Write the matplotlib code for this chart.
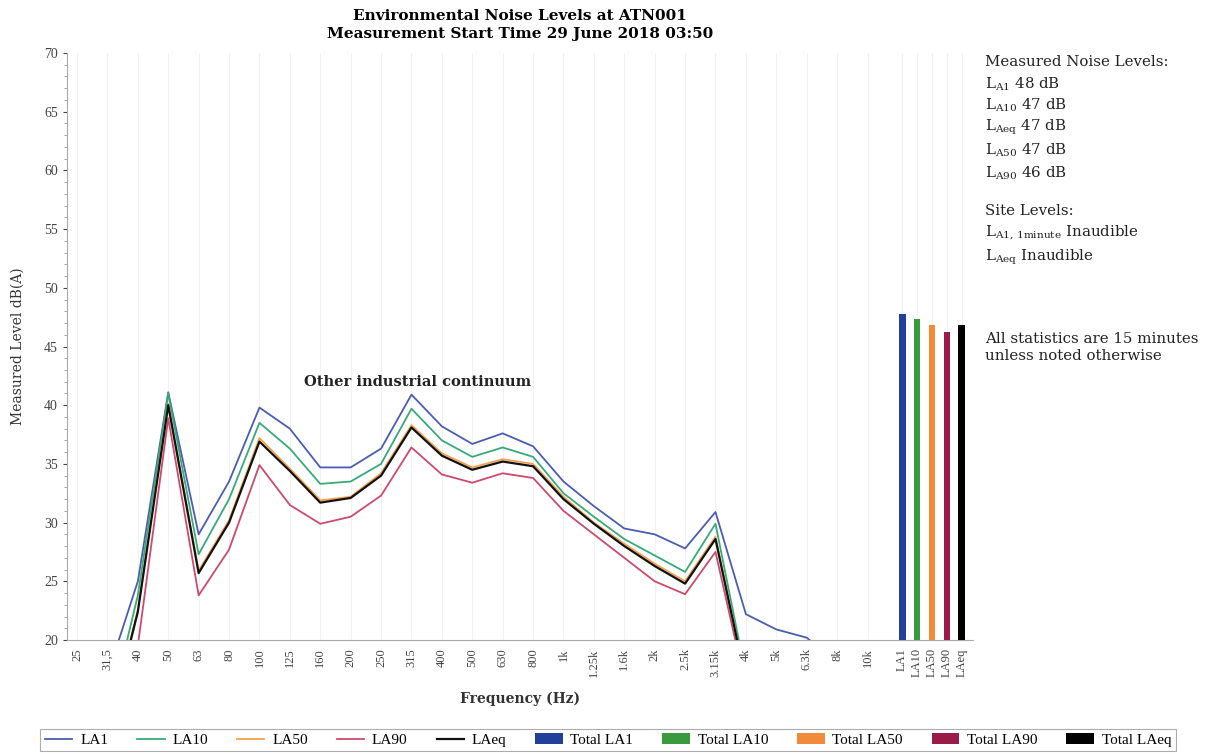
import numpy as np
import matplotlib
matplotlib.use("Agg")
import matplotlib.pyplot as plt
from matplotlib.ticker import MultipleLocator

plt.rcParams['font.family'] = ['Liberation Serif', 'DejaVu Serif']
plt.rcParams['mathtext.fontset'] = 'dejavuserif'

freqs = ["25", "31,5", "40", "50", "63", "80", "100", "125", "160", "200", "250",
         "315", "400", "500", "630", "800", "1k", "1.25k", "1.6k", "2k", "2.5k",
         "3.15k", "4k", "5k", "6.3k", "8k", "10k"]
nan = np.nan
la1 = [12, 17, 25.0, 41.1, 29.0, 33.5, 39.8, 38.0, 34.7, 34.7, 36.3, 40.9, 38.2, 36.7,
       37.6, 36.5, 33.5, 31.4, 29.5, 29.0, 27.8, 30.9, 22.2, 20.9, 20.2, 18.0, nan]
la10 = [10, 13, 23.8, 41.0, 27.3, 32.0, 38.5, 36.3, 33.3, 33.5, 35.0, 39.7, 37.0, 35.6,
        36.4, 35.6, 32.5, 30.5, 28.6, 27.2, 25.8, 29.9, 17.0, nan, nan, nan, nan]
la50 = [9, 12, 22.6, 40.1, 25.9, 30.2, 37.2, 34.6, 31.9, 32.2, 34.2, 38.3, 35.9, 34.7,
        35.4, 35.0, 32.2, 30.0, 28.2, 26.5, 25.0, 28.8, 16.5, nan, nan, nan, nan]
la90 = [8, 10, 19.5, 38.9, 23.8, 27.7, 34.9, 31.5, 29.9, 30.5, 32.3, 36.4, 34.1, 33.4,
        34.2, 33.8, 31.0, 29.0, 27.0, 25.0, 23.9, 27.5, 16.0, nan, nan, nan, nan]
laeq = [9, 12, 22.4, 40.0, 25.7, 30.0, 36.9, 34.4, 31.7, 32.1, 34.0, 38.1, 35.7, 34.5,
        35.2, 34.8, 32.0, 29.9, 28.0, 26.3, 24.8, 28.6, 16.5, nan, nan, nan, nan]

bar_labels = ["LA1", "LA10", "LA50", "LA90", "LAeq"]
bar_values = [47.8, 47.3, 46.8, 46.2, 46.8]

line_colors = ["#4a5db0", "#38aa7a", "#f5a04e", "#cc4a6c", "#111111"]
bar_colors = ["#22409a", "#3a9a3e", "#f28a3c", "#9a1a48", "#000000"]

fig = plt.figure(figsize=(12.22, 7.54), dpi=100)
ax = fig.add_axes([67/1222, 1-640/754, (973-67)/1222, (640-53)/754])

x = np.arange(len(freqs))
series = [("LA1", la1), ("LA10", la10), ("LA50", la50), ("LA90", la90), ("LAeq", laeq)]
handles = []
for (name, vals), c in zip(series, line_colors):
    lw = 1.6 if name == "LAeq" else 1.3
    h, = ax.plot(x, vals, color=c, lw=lw, label=name, zorder=3 if name == "LAeq" else 2)
    handles.append(h)

bx = 27.14 + 0.49 * np.arange(len(bar_labels))
for xi, v, c, name in zip(bx, bar_values, bar_colors, bar_labels):
    b = ax.bar(xi, v - 20, bottom=20, width=0.22, color=c, label="Total " + name, zorder=3)
    handles.append(b)

ax.set_xlim(-0.33, 29.47)
ax.set_ylim(20, 70)
ax.set_xticks(list(x) + list(bx))
ax.set_xticklabels(freqs + bar_labels, rotation=90, fontsize=9, color="#444444")
ax.yaxis.set_major_locator(MultipleLocator(5))
ax.yaxis.set_minor_locator(MultipleLocator(1))
ax.tick_params(axis='y', labelsize=10, colors="#444444", length=3)
ax.tick_params(axis='y', which='minor', length=2, color="#999999")
ax.tick_params(axis='x', length=0, pad=6)
for s in ["top", "right"]:
    ax.spines[s].set_visible(False)
for s in ["left", "bottom"]:
    ax.spines[s].set_color("#aaaaaa")
ax.grid(axis='x', color="#f2f2f2", lw=0.8, zorder=0)

serif = ['DejaVu Serif']
ax.set_ylabel("Measured Level dB(A)", fontsize=10, color="#333333", labelpad=14, family=serif)
ax.set_xlabel("Frequency (Hz)", fontsize=10, fontweight="bold", color="#333333", labelpad=10,
              family=serif)

fig.text(0.4255, 0.979, "Environmental Noise Levels at ATN001", ha="center", va="center",
         fontsize=11, fontweight="bold", family=serif)
fig.text(0.4255, 0.955, "Measurement Start Time 29 June 2018 03:50", ha="center", va="center",
         fontsize=11, fontweight="bold", family=serif)

ax.text(418/1222, 1-382/754, "Other industrial continuum", transform=fig.transFigure,
        ha="center", va="center", fontsize=10.5, fontweight="bold", color="#222222",
        family=serif)

tx = 985/1222
side = [
    (62, "Measured Noise Levels:"),
    (84, r"L$_{\mathrm{A1}}$ 48 dB"),
    (105, r"L$_{\mathrm{A10}}$ 47 dB"),
    (127, r"L$_{\mathrm{Aeq}}$ 47 dB"),
    (150, r"L$_{\mathrm{A50}}$ 47 dB"),
    (173, r"L$_{\mathrm{A90}}$ 46 dB"),
    (211, "Site Levels:"),
    (233, r"L$_{\mathrm{A1,\,1minute}}$ Inaudible"),
    (257, r"L$_{\mathrm{Aeq}}$ Inaudible"),
    (339, "All statistics are 15 minutes"),
    (356, "unless noted otherwise"),
]
for yy, s in side:
    fig.text(tx, 1-yy/754, s, ha="left", va="center", fontsize=10.8, color="#222222",
             family=serif)

leg = fig.legend(handles=handles, loc="center", bbox_to_anchor=(608/1222, 1-740/754),
                 ncol=10, fontsize=11, frameon=True, fancybox=False, edgecolor="#999999",
                 handlelength=1.8, columnspacing=1.9, handletextpad=0.5, borderpad=0.3)
leg.get_frame().set_linewidth(0.8)

fig.savefig("out.png", dpi=100)
